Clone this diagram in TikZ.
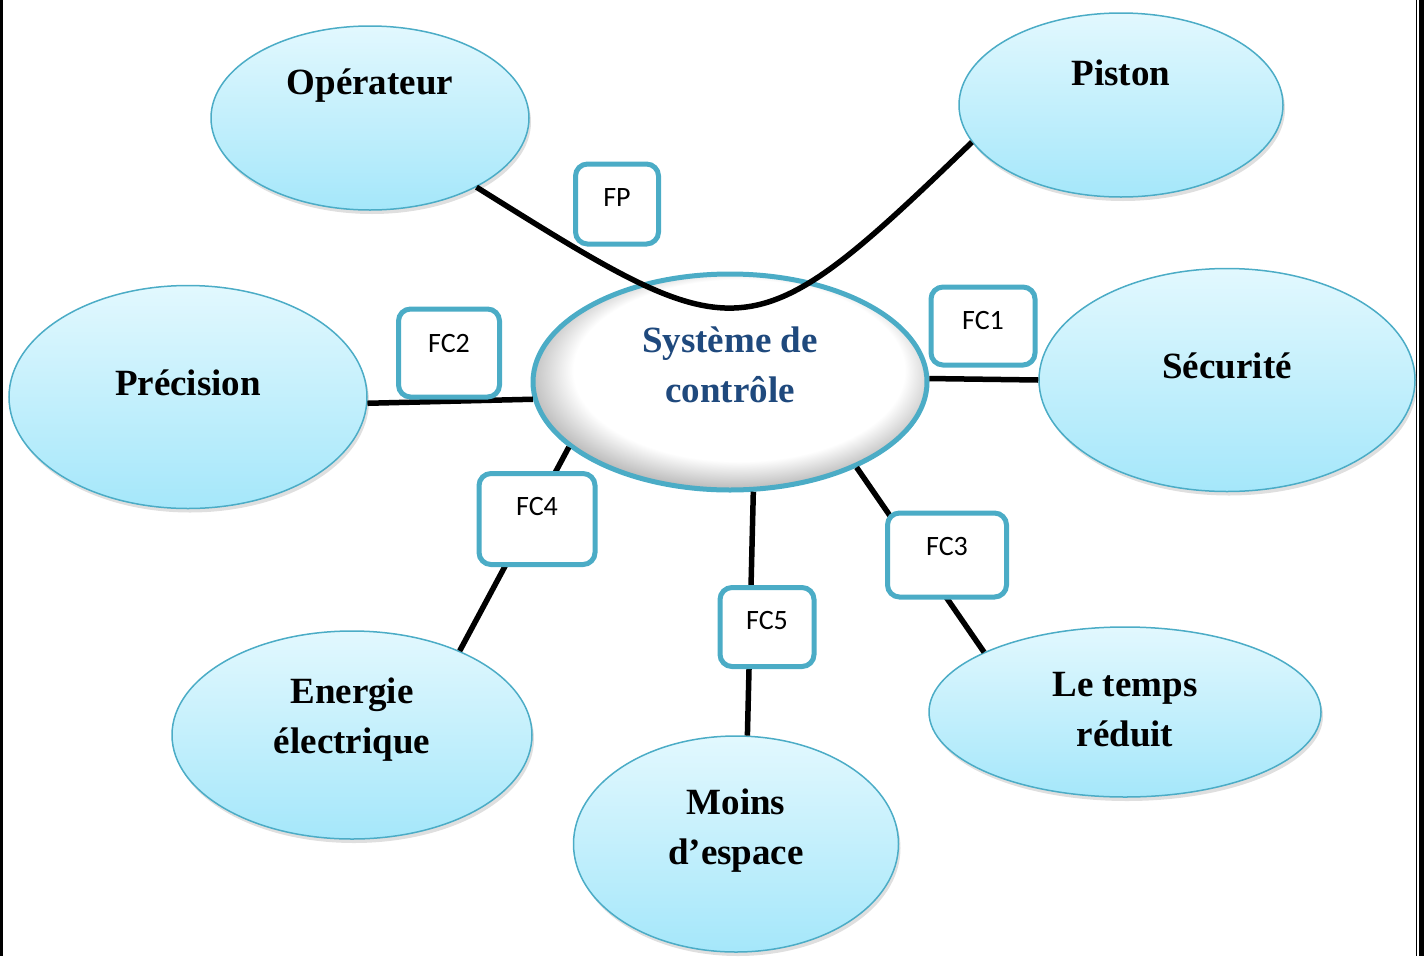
\documentclass[tikz,border=0pt]{standalone}
\usepackage{fontspec}
\setmainfont{Liberation Serif}
\newfontfamily\boxfont{Carlito}
\usetikzlibrary{shapes.geometric,shadows}

\definecolor{rim}{RGB}{75,172,198}
\definecolor{bubtop}{RGB}{226,248,254}
\definecolor{bubbot}{RGB}{165,231,250}
\definecolor{title}{RGB}{31,73,125}

% white centre, grey band along the lower rim
\pgfdeclareradialshading{hollow}{\pgfpoint{3bp}{7bp}}{%
  color(0bp)=(white); color(21bp)=(white);
  color(26bp)=(black!25); color(31bp)=(black!50); color(34bp)=(black!60)}

\begin{document}
\begin{tikzpicture}[x=1pt,y=-1pt,
    bubble/.style={ellipse, draw=rim, line width=1.5pt,
        top color=bubtop, bottom color=bubbot, inner sep=0pt,
        drop shadow={shadow xshift=2pt, shadow yshift=-4pt, opacity=.25}},
    btext/.style={font=\bfseries\fontsize{37}{50}\selectfont, align=center, inner sep=0pt},
    fbox/.style={draw=rim, line width=5pt, rounded corners=12pt, fill=white, inner sep=0pt},
    ftext/.style={font=\boxfont\fontsize{28}{32}\selectfont, inner sep=0pt},
    link/.style={line width=5.5pt}]
    \useasboundingbox (0,0) rectangle (1424,956);

    % page frame
    \draw[line width=3pt] (1.5,0) -- (1.5,956);
    \draw[line width=1.3pt] (1416.5,0) -- (1416.5,956);
    \draw[line width=5pt] (1421.5,0) -- (1421.5,956);

    % surroundings
    \node[bubble, minimum width=318pt, minimum height=184pt,
        label={[btext,yshift=32pt]center:Opérateur}] (op) at (370,118) {};
    \node[bubble, minimum width=324pt, minimum height=184pt,
        label={[btext,yshift=32pt]center:Piston}] (pis) at (1121,105) {};
    \node[bubble, minimum width=358pt, minimum height=223pt,
        label={[btext,yshift=14pt]center:Précision}] (prec) at (188,397) {};
    \node[bubble, minimum width=376pt, minimum height=223pt,
        label={[btext,yshift=14pt]center:Sécurité}] (secu) at (1227,380) {};
    \node[bubble, minimum width=360pt, minimum height=208pt,
        label={[btext,yshift=15pt]center:Energie\\électrique}] (ener) at (352,735) {};
    \node[bubble, minimum width=325pt, minimum height=216pt,
        label={[btext,yshift=13pt]center:Moins\\d’espace}] (moins) at (736,844) {};
    \node[bubble, minimum width=392pt, minimum height=170pt,
        label={[btext,yshift=2pt]center:Le temps\\réduit}] (temps) at (1125,712) {};

    % system under study
    \node[ellipse, draw=rim, line width=5pt, shade, shading=hollow, inner sep=0pt,
        minimum width=394pt, minimum height=216pt,
        label={[btext,text=title,yshift=17pt]center:Système de\\contrôle}] (ctrl) at (730,382) {};

    % functions
    \draw[link] (op.-33) to[out=-32,in=-136,looseness=1.6] (pis.194);
    \draw[link] (ctrl.185) -- (prec.-2);
    \draw[link] (ctrl.1) -- (secu.180);
    \draw[link] (ctrl.202) -- (ener.38);
    \draw[link] (ctrl.-34) -- (temps.157);
    \draw[link] (ctrl.-78) -- (moins.84);

    \node[fbox, minimum width=83pt, minimum height=80pt,
        label={[ftext,yshift=6pt]center:FP}] (fp) at (617,204) {};
    \node[fbox, minimum width=101pt, minimum height=88pt,
        label={[ftext,yshift=9pt]center:FC2}] (fc2) at (449,353) {};
    \node[fbox, minimum width=104pt, minimum height=78pt,
        label={[ftext,yshift=5pt]center:FC1}] (fc1) at (983,326) {};
    \node[fbox, minimum width=116pt, minimum height=91pt,
        label={[ftext,yshift=12pt]center:FC4}] (fc4) at (537,519) {};
    \node[fbox, minimum width=119pt, minimum height=84pt,
        label={[ftext,yshift=8pt]center:FC3}] (fc3) at (947,555) {};
    \node[fbox, minimum width=94pt, minimum height=79pt,
        label={[ftext,yshift=6pt]center:FC5}] (fc5) at (767,627) {};
\end{tikzpicture}
\end{document}
